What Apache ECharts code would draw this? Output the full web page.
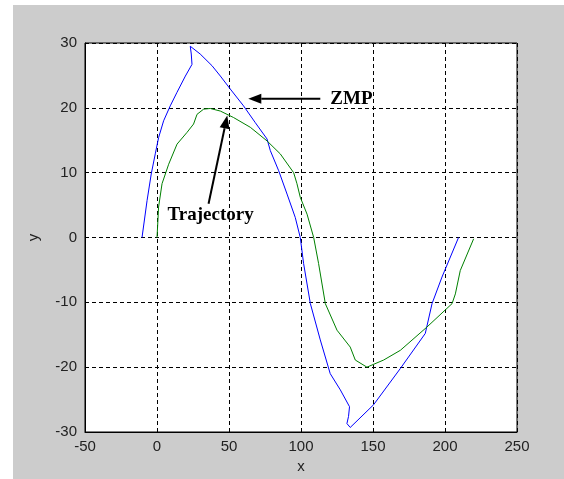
<!DOCTYPE html>
<html>
<head>
<meta charset="utf-8">
<script src="https://cdn.jsdelivr.net/npm/echarts@6/dist/echarts.min.js"></script>
<style>
html, body { margin: 0; padding: 0; background: #fff; }
#chart { width: 564px; height: 479px; }
</style>
</head>
<body>
<div id="chart"></div>
<script>
// ZMP (blue)
var zmpX = [-10.4, -6.9, -4, -1.2, 1.1, 4.6, 9.2, 13.9, 19.7, 24.3, 23.8, 23.1, 24.3, 30, 38.2, 44, 50.9, 60.1, 68.3, 76.4, 78.7, 84.5, 90.3, 96, 99.5, 101.8, 106.5, 113.4, 120.3, 127.3, 133.7, 133, 131.9, 134.2, 150.4, 169, 186.3, 191, 197.9, 209.4];
var zmpY = [0, 5.7, 9.8, 12.9, 15.4, 18, 20.3, 22.4, 24.9, 26.7, 28.3, 29.5, 29.7, 28.3, 26.5, 24.9, 22.9, 20.3, 17.7, 15.2, 13.4, 10.3, 6.7, 3.1, 0, -4, -10.2, -15.8, -21, -23.5, -26.1, -27.6, -28.7, -29.3, -25.8, -20.2, -14.8, -10.2, -6.1, 0];
// trajectory (green)
var trajX = [0, 0.4, 1.1, 3.5, 8.1, 13.9, 20.8, 25.4, 27.8, 32.4, 37, 44, 53.2, 64.8, 76.4, 85.6, 94.9, 97.2, 99.5, 104.2, 108.8, 112.2, 116.9, 125, 134.2, 137.7, 145.8, 157.4, 169, 187.5, 204.9, 207.2, 210.6, 219.9];
var trajY = [0, 1.6, 4.7, 8.3, 11.3, 14.4, 16.2, 17.5, 19, 19.8, 19.9, 19.5, 18.5, 17, 14.9, 12.9, 10, 8.3, 6.2, 3.6, 0, -4, -10.2, -14.3, -16.9, -18.9, -20, -18.9, -17.4, -13.8, -10.2, -8.7, -5.1, -0.2];
var xTicks = [-50, 0, 50, 100, 150, 200, 250];
var yTicks = [-30, -20, -10, 0, 10, 20, 30];

function pairs(xs, ys) {
    var out = [];
    for (var i = 0; i < xs.length; i++) out.push([xs[i], ys[i]]);
    return out;
}

var chart = echarts.init(document.getElementById('chart'));
var tickFont = { color: '#222', fontSize: 15, fontFamily: 'Liberation Sans, Arial, sans-serif' };
var gridLine = { show: true, lineStyle: { color: '#000', type: [4, 3], width: 1 } };

var option = {
    backgroundColor: '#fff',
    animation: false,
    graphic: [{
        type: 'rect', left: 13, top: 5, z: -10, silent: true,
        shape: { width: 551, height: 474 },
        style: { fill: '#cccccc' }
    }],
    grid: {
        left: 85, top: 43, right: 47, bottom: 46,
        show: true, backgroundColor: '#fff', borderColor: '#000', borderWidth: 1
    },
    xAxis: {
        type: 'value', min: xTicks[0], max: xTicks[xTicks.length - 1], interval: 50,
        name: 'x', nameLocation: 'middle', nameGap: 27,
        nameTextStyle: tickFont,
        axisLine: { show: true, onZero: false, lineStyle: { color: '#000' } },
        axisTick: { show: true, inside: true, length: 4, lineStyle: { color: '#000' } },
        axisLabel: Object.assign({ margin: 7 }, tickFont),
        splitLine: gridLine
    },
    yAxis: {
        type: 'value', min: yTicks[0], max: yTicks[yTicks.length - 1], interval: 10,
        name: 'y', nameLocation: 'middle', nameGap: 44,
        nameTextStyle: tickFont,
        axisLine: { show: true, onZero: false, lineStyle: { color: '#000' } },
        axisTick: { show: true, inside: true, length: 4, lineStyle: { color: '#000' } },
        axisLabel: Object.assign({ margin: 8 }, tickFont),
        splitLine: gridLine
    },
    series: [{
        name: 'ZMP', type: 'line', data: pairs(zmpX, zmpY),
        showSymbol: false, symbol: 'none', smooth: false,
        lineStyle: { color: '#0000ff', width: 1 }
    }, {
        name: 'Trajectory', type: 'line', data: pairs(trajX, trajY),
        showSymbol: false, symbol: 'none', smooth: false,
        lineStyle: { color: '#008000', width: 1 }
    }]
};
chart.setOption(option);

// annotations, placed in data space
var zmpTail = chart.convertToPixel({ gridIndex: 0 }, [113.4, 21.4]);
var zmpTip = chart.convertToPixel({ gridIndex: 0 }, [63.4, 21.4]);
var trTail = chart.convertToPixel({ gridIndex: 0 }, [35.8, 5.2]);
var trTip = chart.convertToPixel({ gridIndex: 0 }, [48.8, 18.8]);

function arrow(from, to) {
    var dx = to[0] - from[0], dy = to[1] - from[1];
    var len = Math.sqrt(dx * dx + dy * dy);
    var ux = dx / len, uy = dy / len;
    var hl = 13, hw = 5;
    var bx = to[0] - ux * hl, by = to[1] - uy * hl;
    return [{
        type: 'line', silent: true, z: 50,
        shape: { x1: from[0], y1: from[1], x2: bx, y2: by },
        style: { stroke: '#000', lineWidth: 2 }
    }, {
        type: 'polygon', silent: true, z: 50,
        shape: { points: [[to[0], to[1]], [bx - uy * hw, by + ux * hw], [bx + uy * hw, by - ux * hw]] },
        style: { fill: '#000' }
    }];
}

var labelFont = 'bold 19px "Liberation Serif", "Times New Roman", serif';
var g = option.graphic.concat(arrow(zmpTail, zmpTip), arrow(trTail, trTip), [{
    type: 'text', silent: true, z: 50,
    x: zmpTail[0] + 10, y: zmpTail[1],
    style: { text: 'ZMP', fill: '#000', font: labelFont, verticalAlign: 'middle' }
}, {
    type: 'text', silent: true, z: 50,
    x: trTail[0] - 41, y: trTail[1] + 11,
    style: { text: 'Trajectory', fill: '#000', font: labelFont, verticalAlign: 'middle' }
}]);
chart.setOption({ graphic: g });
</script>
</body>
</html>
